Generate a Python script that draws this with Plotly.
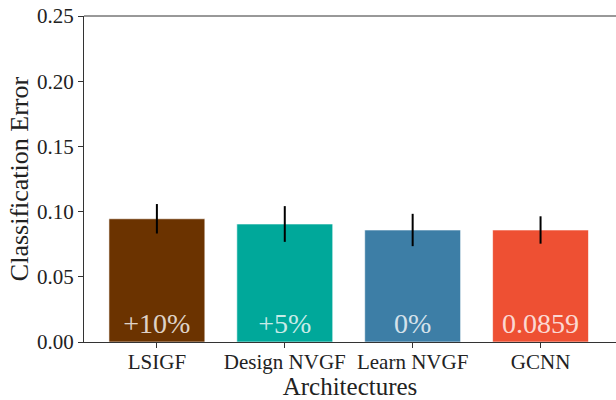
import plotly.graph_objects as go

categories = ["LSIGF", "Design NVGF", "Learn NVGF", "GCNN"]
values = [0.0945, 0.0905, 0.0859, 0.0859]
errors = [0.0113, 0.0137, 0.0124, 0.0105]
bar_labels = ["+10%", "+5%", "0%", "0.0859"]
colors = ["#6B3300", "#00A89A", "#3D7EA6", "#EE5033"]
y_ticks = [0.00, 0.05, 0.10, 0.15, 0.20, 0.25]

FONT = "Liberation Serif"

fig = go.Figure()
fig.add_trace(go.Bar(
    x=list(range(len(categories))),
    y=values,
    width=0.75,
    marker=dict(color=colors, line=dict(color="rgba(255,255,255,0.6)", width=1)),
    error_y=dict(type="data", array=errors, visible=True, color="black", thickness=2, width=0),
    text=bar_labels,
    textposition="inside",
    insidetextanchor="start",
    textangle=0,
    constraintext="none",
    textfont=dict(family=FONT, size=28, color="rgba(255,255,255,0.8)"),
    showlegend=False,
    hoverinfo="skip",
))

fig.update_layout(
    width=616, height=400,
    margin=dict(l=84, r=0, t=16, b=58),
    plot_bgcolor="white", paper_bgcolor="white",
    font=dict(family=FONT, size=21, color="#222"),
    xaxis=dict(
        range=[-0.57, 3.59],
        tickmode="array",
        tickvals=list(range(len(categories))),
        ticktext=categories,
        ticks="outside", ticklen=5, tickwidth=1, tickcolor="#333",
        ticklabelstandoff=-4,
        showline=True, linecolor="#333", linewidth=1, mirror=False,
        showgrid=False, zeroline=False, automargin=False,
        tickfont=dict(size=21),
        title=dict(text="Architectures", font=dict(size=25), standoff=0),
    ),
    yaxis=dict(
        range=[0, 0.25],
        tickmode="array",
        tickvals=y_ticks,
        ticktext=[f"{v:.2f}" for v in y_ticks],
        ticks="outside", ticklen=5, tickwidth=1, tickcolor="#333",
        showline=True, linecolor="#333", linewidth=1,
        showgrid=False, zeroline=False, automargin=False,
        tickfont=dict(size=21),
        title=dict(text="Classification Error", font=dict(size=26), standoff=0),
    ),
)
# top spine
fig.add_shape(type="line", xref="paper", yref="paper", x0=0, x1=1, y0=1, y1=1,
              line=dict(color="#333", width=1))

fig.write_html("out.html", config={"displayModeBar": False},
               post_script="document.body.style.margin='0px';")
